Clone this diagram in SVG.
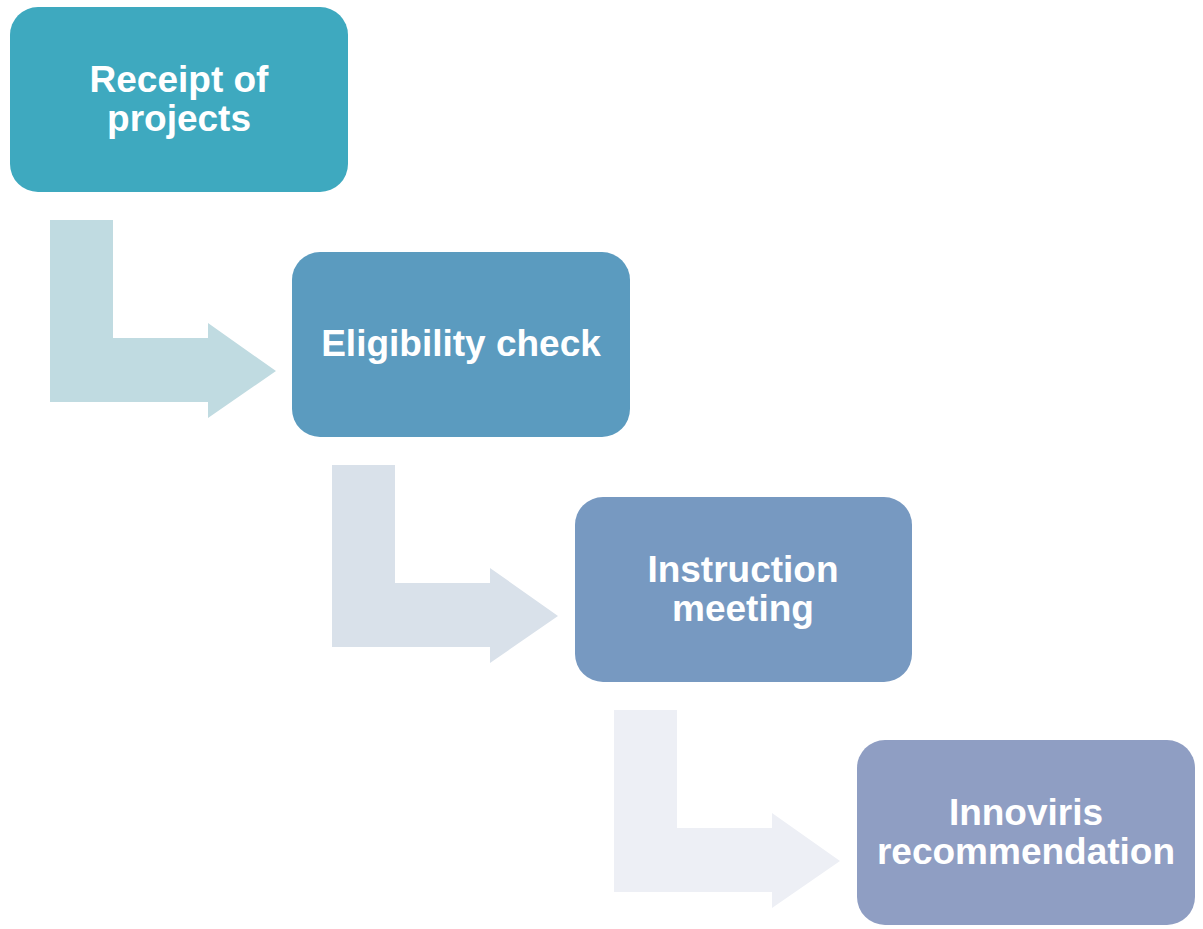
<svg xmlns="http://www.w3.org/2000/svg" width="1203" height="929" viewBox="0 0 1203 929">
<style>
.lbl{font-family:"Liberation Sans",Arial,sans-serif;font-weight:bold;font-size:37px;fill:#ffffff;text-anchor:middle}
</style>
<rect width="1203" height="929" fill="#ffffff"/>
<g id="connectors">
<polygon points="50,220 113,220 113,338 208,338 208,323 276,371 208,418 208,402 50,402" fill="#C0DBE1"/>
<polygon points="332,465 395,465 395,583 490,583 490,568 558,616 490,663 490,647 332,647" fill="#D9E1EA"/>
<polygon points="614,710 677,710 677,828 772,828 772,813 840,861 772,908 772,892 614,892" fill="#EDEFF5"/>
</g>
<g id="node1">
<rect x="10" y="7" width="338" height="185" rx="28" fill="#3EA9BF"/>
<text class="lbl" x="179" y="92">Receipt of</text>
<text class="lbl" x="179" y="131">projects</text>
</g>
<g id="node2">
<rect x="292" y="252" width="338" height="185" rx="28" fill="#5B9BBF"/>
<text class="lbl" x="461" y="356">Eligibility check</text>
</g>
<g id="node3">
<rect x="575" y="497" width="337" height="185" rx="28" fill="#7799C1"/>
<text class="lbl" x="743" y="582">Instruction</text>
<text class="lbl" x="743" y="621">meeting</text>
</g>
<g id="node4">
<rect x="857" y="740" width="338" height="185" rx="28" fill="#8F9EC3"/>
<text class="lbl" x="1026" y="825">Innoviris</text>
<text class="lbl" x="1026" y="864">recommendation</text>
</g>
</svg>
